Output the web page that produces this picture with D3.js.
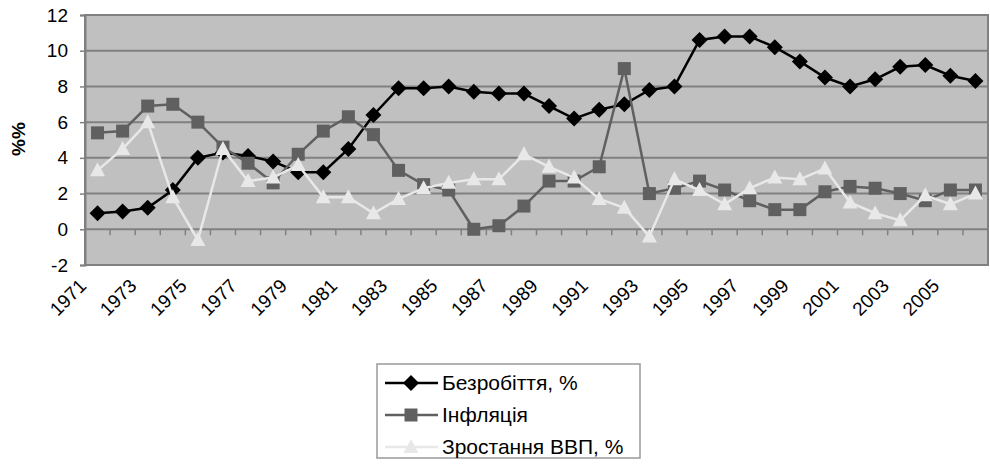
<!DOCTYPE html>
<html>
<head>
<meta charset="utf-8">
<script src="https://cdn.jsdelivr.net/npm/d3@7"></script>
<style>
  body { margin: 0; background: #fff; }
  svg text { font-family: "Liberation Sans", Arial, sans-serif; }
</style>
</head>
<body>
<svg id="chart" width="990" height="466"></svg>
<script>
const years = d3.range(1971, 2007);
const tickYears = years.filter(y => (y - 1971) % 2 === 0);
const yTicks = [-2, 0, 2, 4, 6, 8, 10, 12];

const unemployment = [0.9, 1.0, 1.2, 2.2, 4.0, 4.3, 4.1, 3.8, 3.2, 3.2,
    4.5, 6.4, 7.9, 7.9, 8.0, 7.7, 7.6, 7.6, 6.9, 6.2,
    6.7, 7.0, 7.8, 8.0, 10.6, 10.8, 10.8, 10.2, 9.4, 8.5,
    8.0, 8.4, 9.1, 9.2, 8.6, 8.3];
const inflation = [5.4, 5.5, 6.9, 7.0, 6.0, 4.6, 3.7, 2.6, 4.2, 5.5,
    6.3, 5.3, 3.3, 2.5, 2.2, 0.0, 0.2, 1.3, 2.7, 2.7,
    3.5, 9.0, 2.0, 2.3, 2.7, 2.2, 1.6, 1.1, 1.1, 2.1,
    2.4, 2.3, 2.0, 1.6, 2.2, 2.2];
const gdpGrowth = [3.3, 4.5, 6.0, 1.8, -0.6, 4.5, 2.7, 2.9, 3.6, 1.8,
    1.8, 0.9, 1.7, 2.3, 2.6, 2.8, 2.8, 4.2, 3.5, 2.9,
    1.7, 1.2, -0.4, 2.8, 2.2, 1.4, 2.3, 2.9, 2.8, 3.4,
    1.5, 0.9, 0.5, 1.9, 1.4, 2.0];

const seriesNames = ["Безробіття, %", "Інфляція", "Зростання ВВП, %"];

const series = [
    {name: seriesNames[0], values: unemployment, color: "#000000", marker: "diamond"},
    {name: seriesNames[1], values: inflation, color: "#606060", marker: "square"},
    {name: seriesNames[2], values: gdpGrowth, color: "#e8e8e8", marker: "triangle"}
];

const svg = d3.select("#chart");
const plot = {left: 85, right: 988, top: 15, bottom: 265};

const x = d3.scaleBand().domain(years).range([plot.left, plot.right]).padding(0);
const y = d3.scaleLinear().domain([-2, 12]).range([plot.bottom, plot.top]);
const cx = d => x(d) + x.bandwidth() / 2;

const markerPath = (type) => {
    if (type === "diamond") return "M0,-8L8,0L0,8L-8,0Z";
    if (type === "square") return "M-6.5,-6.5H6.5V6.5H-6.5Z";
    return "M0,-8L7.5,6L-7.5,6Z";
};

// plot area
svg.append("rect")
    .attr("x", plot.left).attr("y", plot.top)
    .attr("width", plot.right - plot.left).attr("height", plot.bottom - plot.top)
    .attr("fill", "#c0c0c0")
    .attr("stroke", "#808080").attr("stroke-width", 2);

// grid lines
svg.append("g")
    .selectAll("line")
    .data(yTicks)
    .join("line")
    .attr("x1", plot.left).attr("x2", plot.right)
    .attr("y1", d => y(d)).attr("y2", d => y(d))
    .attr("stroke", "#808080").attr("stroke-width", 2);

// y axis
const yAxis = svg.append("g")
    .attr("transform", `translate(${plot.left},0)`)
    .call(d3.axisLeft(y).tickValues(yTicks).tickSize(5).tickPadding(12).tickFormat(d => String(d)));
yAxis.select(".domain").attr("stroke", "#808080").attr("stroke-width", 2);
yAxis.selectAll(".tick line").attr("stroke", "#808080").attr("stroke-width", 1.5);
yAxis.selectAll(".tick text")
    .attr("font-size", 19)
    .attr("font-family", "Liberation Sans, Arial, sans-serif")
    .attr("fill", "#000");

// category ticks on the zero line
svg.append("g")
    .selectAll("line")
    .data(years.slice(1))
    .join("line")
    .attr("x1", d => x(d)).attr("x2", d => x(d))
    .attr("y1", y(0)).attr("y2", y(0) + 6)
    .attr("stroke", "#808080").attr("stroke-width", 1.5);

// x labels
svg.append("g")
    .selectAll("text")
    .data(tickYears)
    .join("text")
    .attr("transform", d => `translate(${cx(d) - 10},${plot.bottom + 22}) rotate(-45)`)
    .attr("text-anchor", "end")
    .attr("font-size", 19)
    .text(d => d);

// y title
svg.append("text")
    .attr("transform", `translate(25,139) rotate(-90)`)
    .attr("text-anchor", "middle")
    .attr("font-size", 19)
    .attr("font-weight", "bold")
    .text("%%");

// lines and markers
const line = d3.line().x((d, i) => cx(years[i])).y(d => y(d));

series.forEach(s => {
    const g = svg.append("g");
    g.append("path")
        .attr("d", line(s.values))
        .attr("fill", "none")
        .attr("stroke", s.color)
        .attr("stroke-width", 2.5);
    g.selectAll("path.mk")
        .data(s.values)
        .join("path")
        .attr("class", "mk")
        .attr("d", markerPath(s.marker))
        .attr("transform", (d, i) => `translate(${cx(years[i])},${y(d)})`)
        .attr("fill", s.color);
});

// legend
const legend = svg.append("g").attr("transform", "translate(377,364)");
legend.append("rect")
    .attr("width", 263).attr("height", 94)
    .attr("fill", "#fff")
    .attr("stroke", "#999").attr("stroke-width", 1.5);
series.forEach((s, i) => {
    const row = legend.append("g").attr("transform", `translate(0,${19 + i * 32})`);
    row.append("line")
        .attr("x1", 8).attr("x2", 61)
        .attr("stroke", s.color).attr("stroke-width", 2.5);
    row.append("path")
        .attr("d", markerPath(s.marker))
        .attr("transform", "translate(34,0)")
        .attr("fill", s.color);
    row.append("text")
        .attr("x", 65).attr("y", 7)
        .attr("font-size", 21)
        .text(s.name);
});
</script>
</body>
</html>
